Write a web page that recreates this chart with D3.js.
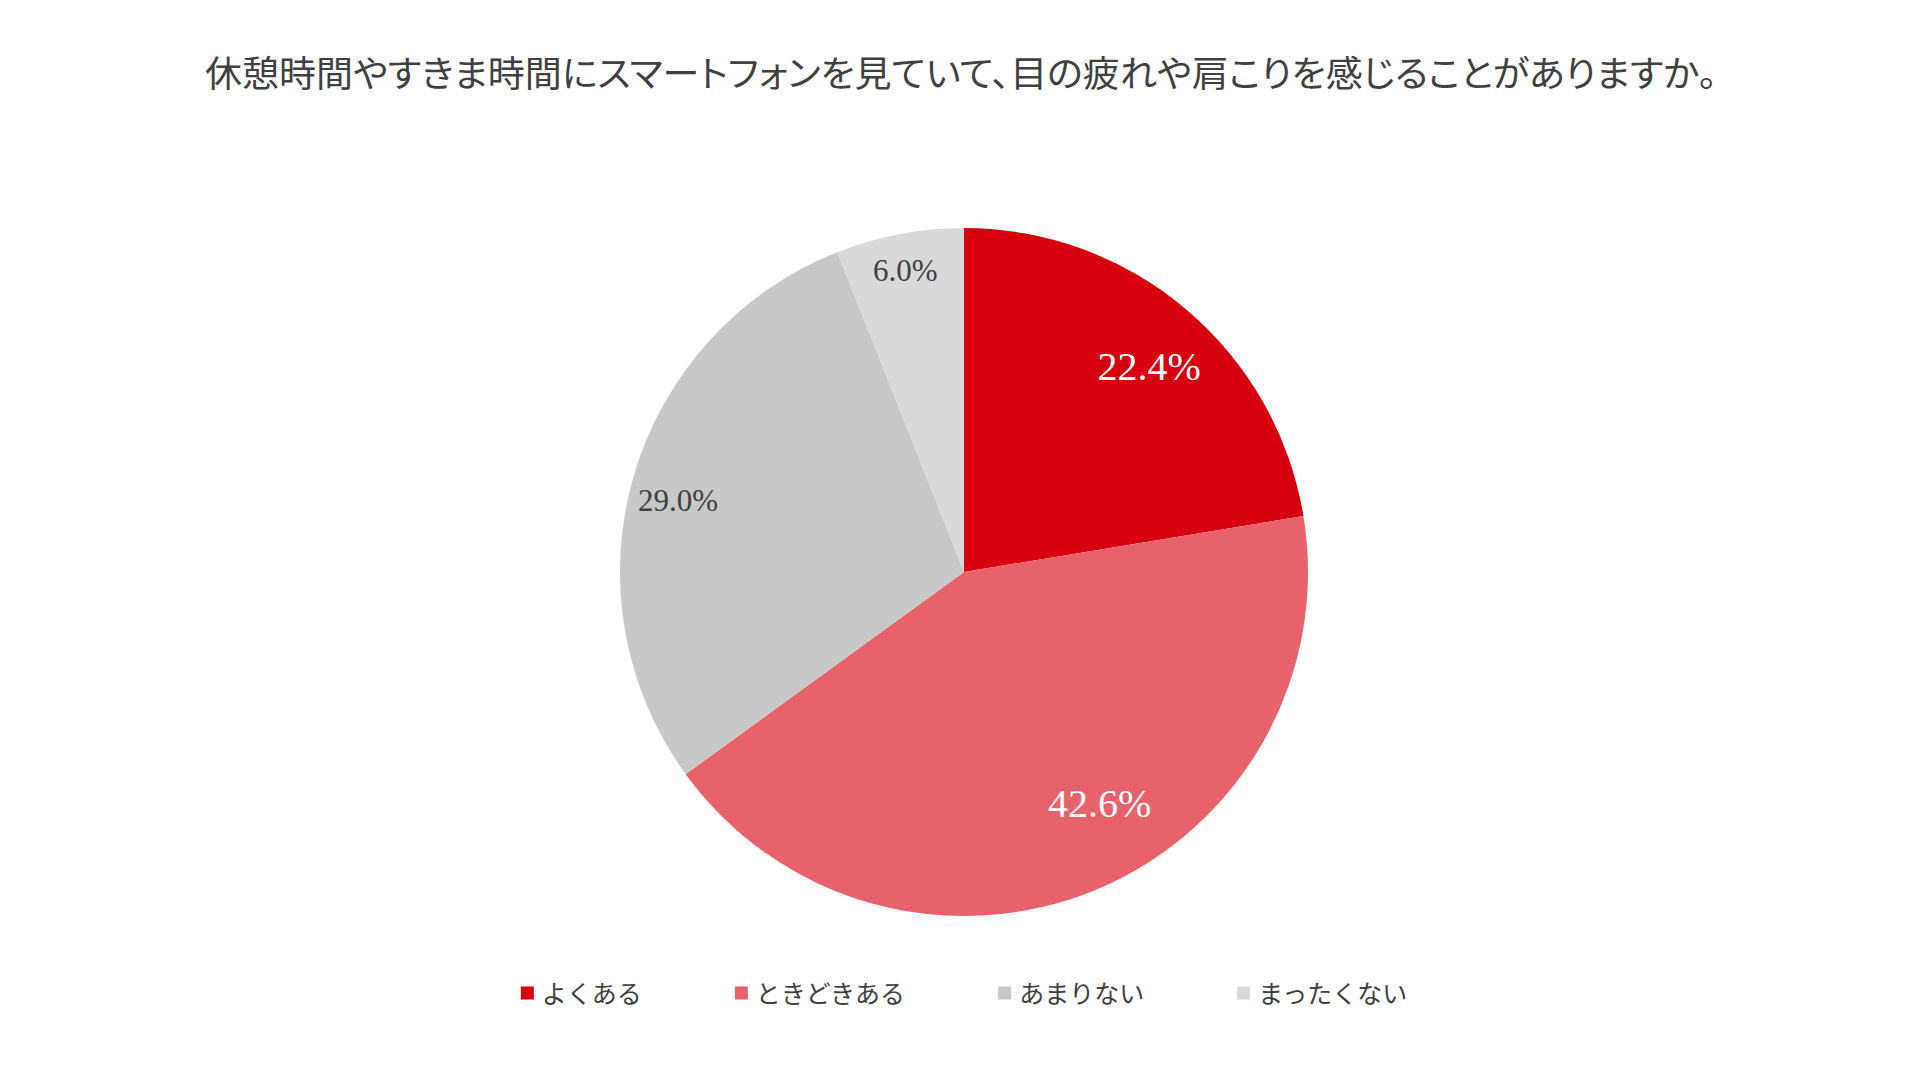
<!DOCTYPE html>
<html>
<head>
<meta charset="utf-8">
<script src="https://cdn.jsdelivr.net/npm/d3@7"></script>
<style>
  html, body { margin: 0; padding: 0; background: #ffffff; }
  svg { display: block; }
</style>
</head>
<body>
<div id="chart"></div>
<script>
(function() {
    // Data
    const title = "休憩時間やすきま時間にスマートフォンを見ていて、目の疲れや肩こりを感じることがありますか。";
    const categories = ["よくある", "ときどきある", "あまりない", "まったくない"];
    const values = [22.4, 42.6, 29.0, 6.0];

    // Style
    const palette = ["#d6000f", "#e8626b", "#c8c8c8", "#d9d9d9"];
    const labelColors = ["#ffffff", "#ffffff", "#404040", "#404040"];
    const labelSizes = [40, 40, 31, 31];
    // best-fit label placement: position along the slice (0..1) and distance as fraction of r
    const labelAlong = [0.52, 0.45, 0.48, 0.49];
    const labelRadius = [0.805, 0.78, 0.857, 0.894];

    const width = 1920, height = 1074;
    const cx = 964, cy = 572, r = 344;

    const svg = d3.select("#chart")
        .append("svg")
        .attr("width", width)
        .attr("height", height)
        .style("background", "#ffffff");

    // Title
    svg.append("text")
        .attr("x", 205)
        .attr("y", 71)
        .attr("dominant-baseline", "central")
        .attr("textLength", 1512)
        .attr("lengthAdjust", "spacingAndGlyphs")
        .style("font-family", "'Noto Sans CJK JP', 'Noto Sans', sans-serif")
        .style("font-feature-settings", "'palt'")
        .style("font-size", "36px")
        .style("fill", "#404040")
        .text(title);

    // Pie
    const pie = d3.pie().sort(null).value(d => d.value);
    const arcs = pie(categories.map((c, i) => ({ name: c, value: values[i], i })));
    const arc = d3.arc().innerRadius(0).outerRadius(r);

    const g = svg.append("g").attr("transform", `translate(${cx},${cy})`);

    g.selectAll("path")
        .data(arcs)
        .enter()
        .append("path")
        .attr("d", arc)
        .attr("fill", d => palette[d.data.i]);

    g.selectAll("text.label")
        .data(arcs)
        .enter()
        .append("text")
        .attr("class", "label")
        .attr("transform", d => {
            const i = d.data.i;
            const k = labelRadius[i] * r;
            const a = d.startAngle + (d.endAngle - d.startAngle) * labelAlong[i];
            return `translate(${Math.sin(a) * k},${-Math.cos(a) * k})`;
        })
        .attr("text-anchor", "middle")
        .attr("dy", "0.34em")
        .style("font-family", "'Liberation Serif', 'DejaVu Serif', serif")
        .style("font-size", d => labelSizes[d.data.i] + "px")
        .style("fill", d => labelColors[d.data.i])
        .text(d => d.data.value.toFixed(1) + "%");

    // Legend
    const legend = svg.append("g");
    const box = 13, textGap = 8, itemGap = 93, legendY = 992;
    let x = 0;
    categories.forEach((c, i) => {
        const item = legend.append("g").attr("transform", `translate(${x},0)`);
        item.append("rect")
            .attr("x", 0)
            .attr("y", legendY - box / 2 + 1)
            .attr("width", box)
            .attr("height", box)
            .attr("fill", palette[i]);
        const t = item.append("text")
            .attr("x", box + textGap)
            .attr("y", legendY)
            .attr("dominant-baseline", "central")
            .style("font-family", "'Noto Sans CJK JP', 'Noto Sans', sans-serif")
            .style("font-size", "25px")
            .style("fill", "#404040")
            .text(c);
        x += box + textGap + t.node().getComputedTextLength() + itemGap;
    });
    const total = x - itemGap;
    legend.attr("transform", `translate(${964 - total / 2},0)`);
})();
</script>
</body>
</html>
